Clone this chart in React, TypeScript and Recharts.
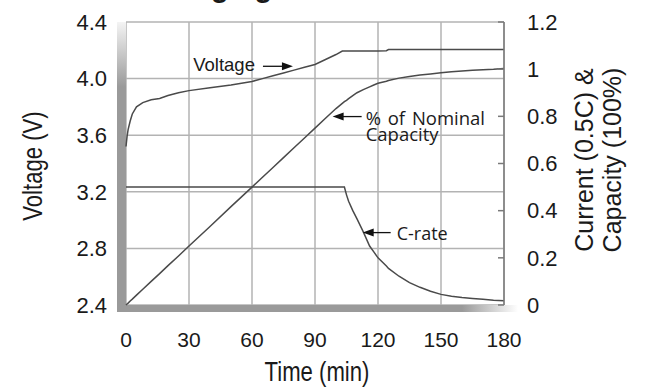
import React from "react";
import {
  ComposedChart,
  Line,
  XAxis,
  YAxis,
  CartesianGrid,
  ReferenceDot,
  Customized,
} from "recharts";

// time in minutes, voltage in V, capacity and C-rate as fraction of nominal
const time = [
  0, 0.5, 1, 2, 3, 5, 8, 12, 16, 20, 25, 30, 40, 50, 60, 65, 70, 75, 80, 85, 90, 95, 100,
  103, 104, 105, 106, 108, 110, 113, 116, 118, 120, 124, 125, 130, 135, 140, 145, 150,
  155, 160, 165, 170, 175, 180,
];
const voltage = [
  3.52, 3.59, 3.64, 3.7, 3.75, 3.8, 3.83, 3.85, 3.86, 3.88, 3.9, 3.915, 3.935, 3.955, 3.98,
  4.0, 4.02, 4.04, 4.06, 4.08, 4.1, 4.135, 4.17, 4.195, 4.195, 4.195, 4.195, 4.195, 4.195,
  4.195, 4.195, 4.195, 4.195, 4.197, 4.205, 4.205, 4.205, 4.205, 4.205, 4.205, 4.205, 4.205,
  4.205, 4.205, 4.205, 4.205,
];
const capacity = [
  0, 0.004, 0.008, 0.017, 0.025, 0.042, 0.067, 0.1, 0.133, 0.167, 0.208, 0.25, 0.333, 0.417,
  0.5, 0.542, 0.583, 0.625, 0.667, 0.708, 0.75, 0.792, 0.833, 0.855, 0.862, 0.868, 0.875,
  0.888, 0.9, 0.913, 0.925, 0.933, 0.94, 0.949, 0.952, 0.962, 0.969, 0.975, 0.98, 0.985,
  0.989, 0.992, 0.995, 0.998, 1.0, 1.003,
];
const cRate = [
  0.5, 0.5, 0.5, 0.5, 0.5, 0.5, 0.5, 0.5, 0.5, 0.5, 0.5, 0.5, 0.5, 0.5, 0.5, 0.5, 0.5, 0.5,
  0.5, 0.5, 0.5, 0.5, 0.5, 0.5, 0.5, 0.467, 0.44, 0.4, 0.365, 0.31, 0.25, 0.225, 0.2, 0.165,
  0.155, 0.122, 0.095, 0.075, 0.058, 0.045, 0.037, 0.032, 0.028, 0.024, 0.02, 0.018,
];

const timeTicks = [0, 30, 60, 90, 120, 150, 180];
const voltTicks = [2.4, 2.8, 3.2, 3.6, 4.0, 4.4];
const ratioTicks = [0, 0.2, 0.4, 0.6, 0.8, 1, 1.2];

const data = time.map((t, i) => ({
  t,
  voltage: voltage[i],
  capacity: capacity[i],
  cRate: cRate[i],
}));

const W = 658;
const H = 387;
const M_TOP = 22;
const LEFT_W = 126;
const RIGHT_W = 154;
const X_H = 82;
const PLOT_R = W - RIGHT_W;
const PLOT_B = H - X_H;

const LINE = "#4a4a4a";
const GRID = "#b3b3b3";
const TXT = "#1a1a1a";
const ARIAL = "'Liberation Sans', Arial, sans-serif";
const MYRIAD = "'Open Sans', 'Noto Sans', sans-serif";

function Decor() {
  return (
    <g>
      <defs>
        <linearGradient id="barLeft" gradientUnits="userSpaceOnUse" x1="0" y1={M_TOP} x2="0" y2={M_TOP + 65}>
          <stop offset="0" stopColor="#f4f4f4" />
          <stop offset="1" stopColor="#9a9a9a" />
        </linearGradient>
        <linearGradient id="barBottom" gradientUnits="userSpaceOnUse" x1={PLOT_R - 42} y1="0" x2={PLOT_R + 14} y2="0">
          <stop offset="0" stopColor="#9a9a9a" />
          <stop offset="1" stopColor="#ffffff" />
        </linearGradient>
      </defs>
      <rect x={LEFT_W - 9} y={M_TOP} width={9} height={PLOT_B - M_TOP + 7} fill="url(#barLeft)" />
      <rect x={LEFT_W - 9} y={PLOT_B} width={PLOT_R + 14 - (LEFT_W - 9)} height={7} fill="url(#barBottom)" />
      <rect x={LEFT_W - 9} y={PLOT_B} width={9} height={7} fill="#9a9a9a" />
      {/* title, cut off by the top of the picture */}
      <text x={145} y={-3} fontFamily={ARIAL} fontWeight="bold" fontSize={29} fill={TXT}>
        Charging
      </text>
      <text
        transform="translate(42,166) rotate(-90) scale(0.82,1)"
        textAnchor="middle"
        fontFamily={ARIAL}
        fontSize={27}
        fill={TXT}
      >
        Voltage (V)
      </text>
      <text
        transform="translate(317,381) scale(0.82,1)"
        textAnchor="middle"
        fontFamily={ARIAL}
        fontSize={27}
        fill={TXT}
      >
        Time (min)
      </text>
      <text transform="translate(593,160) rotate(-90)" textAnchor="middle" fontFamily={ARIAL} fontSize={25} fill={TXT}>
        Current (0.5C) &amp;
      </text>
      <text transform="translate(621,160) rotate(-90)" textAnchor="middle" fontFamily={ARIAL} fontSize={25} fill={TXT}>
        Capacity (100%)
      </text>
    </g>
  );
}

function arrowHead(cx: number, cy: number, dir: 1 | -1) {
  // dir 1: pointing right, -1: pointing left
  const b = cx - dir * 11;
  return <polygon points={`${cx},${cy} ${b},${cy - 4} ${b},${cy + 4}`} fill="#111" />;
}

function VoltageNote(p: any) {
  const { cx, cy } = p;
  return (
    <g>
      <line x1={cx - 30} y1={cy} x2={cx - 8} y2={cy} stroke="#111" strokeWidth={1.3} />
      {arrowHead(cx, cy, 1)}
      <text x={cx - 38} y={cy + 5} textAnchor="end" fontFamily={ARIAL} fontSize={18.5} fill={TXT}>
        Voltage
      </text>
    </g>
  );
}

function CapacityNote(p: any) {
  const { cx, cy } = p;
  return (
    <g>
      <line x1={cx + 8} y1={cy} x2={cx + 29} y2={cy} stroke="#111" strokeWidth={1.3} />
      {arrowHead(cx, cy, -1)}
      <text x={cx + 33} y={cy + 8} fontFamily={MYRIAD} fontSize={18.5} fill={TXT} wordSpacing={2}>
        % of Nominal
      </text>
      <text x={cx + 33} y={cy + 24} fontFamily={MYRIAD} fontSize={18.5} fill={TXT}>
        Capacity
      </text>
    </g>
  );
}

function CRateNote(p: any) {
  const { cx, cy } = p;
  return (
    <g>
      <line x1={cx + 8} y1={cy} x2={cx + 28} y2={cy} stroke="#111" strokeWidth={1.3} />
      {arrowHead(cx, cy, -1)}
      <text x={cx + 34} y={cy + 7} fontFamily={MYRIAD} fontSize={18} fill={TXT}>
        C-rate
      </text>
    </g>
  );
}

export default function App() {
  return (
    <div style={{ position: "absolute", left: 0, top: 0, width: W, height: H, background: "#fff" }}>
      <ComposedChart width={W} height={H} data={data} margin={{ top: M_TOP, right: 0, bottom: 0, left: 0 }}>
        <CartesianGrid yAxisId="left" stroke={GRID} strokeWidth={1.5} horizontalValues={voltTicks} verticalValues={timeTicks} />
        <XAxis
          dataKey="t"
          type="number"
          domain={[0, 180]}
          ticks={timeTicks}
          height={X_H}
          axisLine={false}
          tickLine={false}
          tickSize={25}
          tickMargin={2}
          tick={{ fontSize: 21, fill: TXT, fontFamily: ARIAL }}
        />
        <YAxis
          yAxisId="left"
          type="number"
          domain={[2.4, 4.4]}
          ticks={voltTicks}
          width={LEFT_W}
          axisLine={false}
          tickLine={false}
          tickSize={17}
          tickMargin={2}
          tickFormatter={(v: number) => v.toFixed(1)}
          tick={{ fontSize: 22, fill: TXT, fontFamily: ARIAL }}
        />
        <YAxis
          yAxisId="right"
          orientation="right"
          type="number"
          domain={[0, 1.2]}
          ticks={ratioTicks}
          width={RIGHT_W}
          axisLine={{ stroke: "#7a7a7a", strokeWidth: 1.5 }}
          tickLine={{ stroke: "#7a7a7a", strokeWidth: 1.5 }}
          tickSize={-6}
          tickMargin={29}
          tick={{ fontSize: 22, fill: TXT, fontFamily: ARIAL, textAnchor: "start" }}
        />
        <Line yAxisId="left" dataKey="voltage" type="linear" stroke={LINE} strokeWidth={1.5} dot={false} isAnimationActive={false} />
        <Line yAxisId="right" dataKey="capacity" type="linear" stroke={LINE} strokeWidth={1.5} dot={false} isAnimationActive={false} />
        <Line yAxisId="right" dataKey="cRate" type="linear" stroke={LINE} strokeWidth={1.5} dot={false} isAnimationActive={false} />
        <ReferenceDot yAxisId="left" x={79.5} y={4.087} shape={(p: any) => <VoltageNote {...p} />} />
        <ReferenceDot yAxisId="right" x={98.4} y={0.799} shape={(p: any) => <CapacityNote {...p} />} />
        <ReferenceDot yAxisId="right" x={112.7} y={0.307} shape={(p: any) => <CRateNote {...p} />} />
        <Customized component={Decor} />
      </ComposedChart>
    </div>
  );
}
